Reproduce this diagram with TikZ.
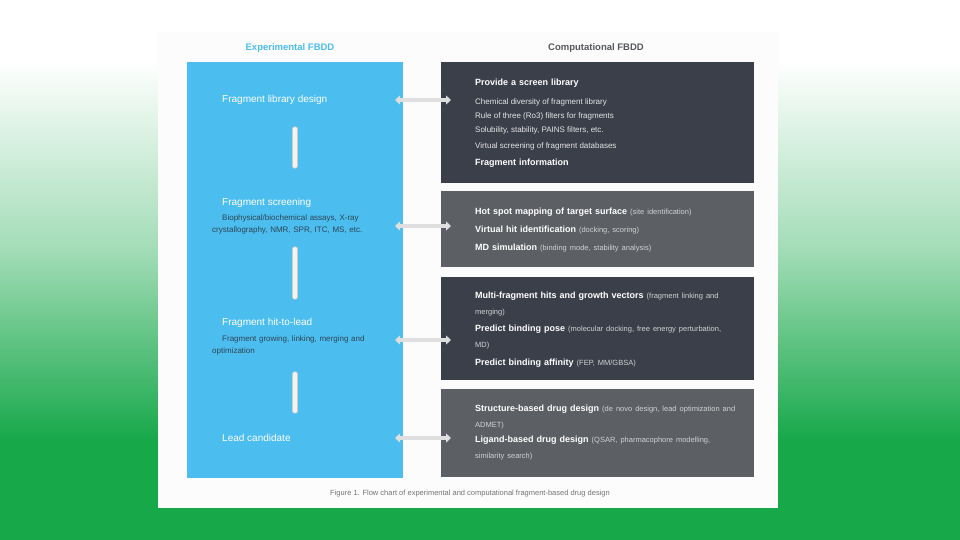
\documentclass[tikz,border=0pt]{standalone}
\usepackage{fontspec}
\setmainfont{Liberation Sans}
\usetikzlibrary{arrows.meta}
\definecolor{bgGreen}{HTML}{17A84A}
\definecolor{expBlue}{HTML}{4BBDEE}
\definecolor{darkBox}{HTML}{3A3F4A}
\definecolor{greyBox}{HTML}{5C5F64}
\definecolor{headGrey}{HTML}{55585C}
\definecolor{descText}{HTML}{2E4556}
\tikzset{
  boxnode/.style={anchor=north west, inner sep=0pt, outer sep=0pt},
  steplabel/.style={anchor=west, inner sep=0pt, text=white, font=\fontsize{10}{12}\selectfont},
  stepdesc/.style={anchor=north west, inner sep=0pt, text=descText, text width=168pt, align=left, font=\fontsize{8}{12}\selectfont},
  itemline/.style={anchor=north west, inner sep=0pt, text=white, text width=262pt, align=left, font=\bfseries\fontsize{9}{16}\selectfont},
  subline/.style={anchor=west, inner sep=0pt, text=white!80!gray, font=\fontsize{8}{10}\selectfont},
  harrow/.style={line width=3.5pt, draw=gray!25, {Triangle[length=5pt,width=9pt]}-{Triangle[length=5pt,width=9pt]}},
  varrow/.style={draw=gray!40, double=white!90!gray, double distance=3.5pt, line width=0.8pt, line cap=round}
}
\newcommand{\lighttext}[1]{{\mdseries\color{white!65!gray}\fontsize{7.5}{16}\selectfont #1}}
\begin{document}
\hyphenpenalty=10000
\exhyphenpenalty=10000
\begin{tikzpicture}[x=1pt,y=-1pt]
		%%%%% START %%%%%
		\useasboundingbox (0,0) rectangle (960,540);
		
		% background
		\fill[white] (0,0) rectangle (960,60);
		\shade[top color=white, bottom color=bgGreen, middle color=bgGreen!40] (0,60) rectangle (960,440);
		\fill[bgGreen] (0,440) rectangle (960,540);
		\fill[white!98!gray] (158,32) rectangle (778,508);
		
		% column heads
		\node[font=\bfseries\fontsize{9.5}{11}\selectfont, text=expBlue] (exphead) at (290,48) {Experimental FBDD};
		\node[font=\bfseries\fontsize{9.5}{11}\selectfont, text=headGrey] (comphead) at (596,48) {Computational FBDD};
		
		% experimental column
		\node[boxnode, fill=expBlue, minimum width=216pt, minimum height=416pt] (expbox) at (187,62) {};
		\node[steplabel] (lib) at (222,100) {Fragment library design};
		\node[steplabel] (screen) at (222,203) {Fragment screening};
		\node[stepdesc] (screendesc) at (212,215) {\hspace*{10pt}Biophysical/biochemical assays, X-ray crystallography, NMR, SPR, ITC, MS, etc.};
		\node[steplabel] (hit) at (222,323) {Fragment hit-to-lead};
		\node[stepdesc] (hitdesc) at (212,336) {\hspace*{10pt}Fragment growing, linking, merging and optimization};
		\node[steplabel] (lead) at (222,438) {Lead candidate};
		
		\draw[varrow] ([yshift=-24pt]lib.south -| expbox.north) -- ([yshift=32pt]screen.north -| expbox.north);
		\draw[varrow] ([yshift=-14pt]screendesc.south -| expbox.north) -- ([yshift=21pt]hit.north -| expbox.north);
		\draw[varrow] ([yshift=-18pt]hitdesc.south -| expbox.north) -- ([yshift=23pt]lead.north -| expbox.north);
		
		% computational column
		\node[boxnode, fill=darkBox, minimum width=313pt, minimum height=121pt] (compA) at (441,62) {};
		\node[boxnode, fill=greyBox, minimum width=313pt, minimum height=76pt] (compB) at (441,191) {};
		\node[boxnode, fill=darkBox, minimum width=313pt, minimum height=103pt] (compC) at (441,277) {};
		\node[boxnode, fill=greyBox, minimum width=313pt, minimum height=88pt] (compD) at (441,389) {};
		
		\node[itemline] (libA) at (475,79) {Provide a screen library};
		\node[subline] (libB) at (475,102) {Chemical diversity of fragment library};
		\node[subline] (libC) at (475,116) {Rule of three (Ro3) filters for fragments};
		\node[subline] (libD) at (475,130) {Solubility, stability, PAINS filters, etc.};
		\node[subline] (libE) at (475,146) {Virtual screening of fragment databases};
		\node[itemline] (libF) at (475,159) {Fragment information};
		
		\node[itemline] (scrA) at (475,208) {Hot spot mapping of target surface \lighttext{(site identification)}};
		\node[itemline] (scrB) at (475,226) {Virtual hit identification \lighttext{(docking, scoring)}};
		\node[itemline] (scrC) at (475,244) {MD simulation \lighttext{(binding mode, stability analysis)}};
		
		\node[itemline] (hitA) at (475,292) {Multi-fragment hits and growth vectors \lighttext{(fragment linking and merging)}};
		\node[itemline] (hitB) at (475,325) {Predict binding pose \lighttext{(molecular docking, free energy perturbation, MD)}};
		\node[itemline] (hitC) at (475,359) {Predict binding affinity \lighttext{(FEP, MM/GBSA)}};
		
		\node[itemline] (leadA) at (475,405) {Structure-based drug design \lighttext{(de novo design, lead optimization and ADMET)}};
		\node[itemline] (leadB) at (475,436) {Ligand-based drug design \lighttext{(QSAR, pharmacophore modelling, similarity search)}};
		
		% links between the columns
		\draw[harrow] ([xshift=-8pt]lib -| expbox.east) -- ([xshift=10pt]lib -| compA.west);
		\draw[harrow] ([xshift=-8pt,yshift=-23pt]screen -| expbox.east) -- ([xshift=10pt,yshift=-23pt]screen -| compB.west);
		\draw[harrow] ([xshift=-8pt,yshift=-17pt]hit -| expbox.east) -- ([xshift=10pt,yshift=-17pt]hit -| compC.west);
		\draw[harrow] ([xshift=-8pt]lead -| expbox.east) -- ([xshift=10pt]lead -| compD.west);
		
		% caption
		\node[font=\fontsize{7.5}{9}\selectfont, text=gray!90!black] (caption) at (470,494) {Figure 1. Flow chart of experimental and computational fragment-based drug design};
		%%%%% END %%%%%
\end{tikzpicture}
\end{document}
